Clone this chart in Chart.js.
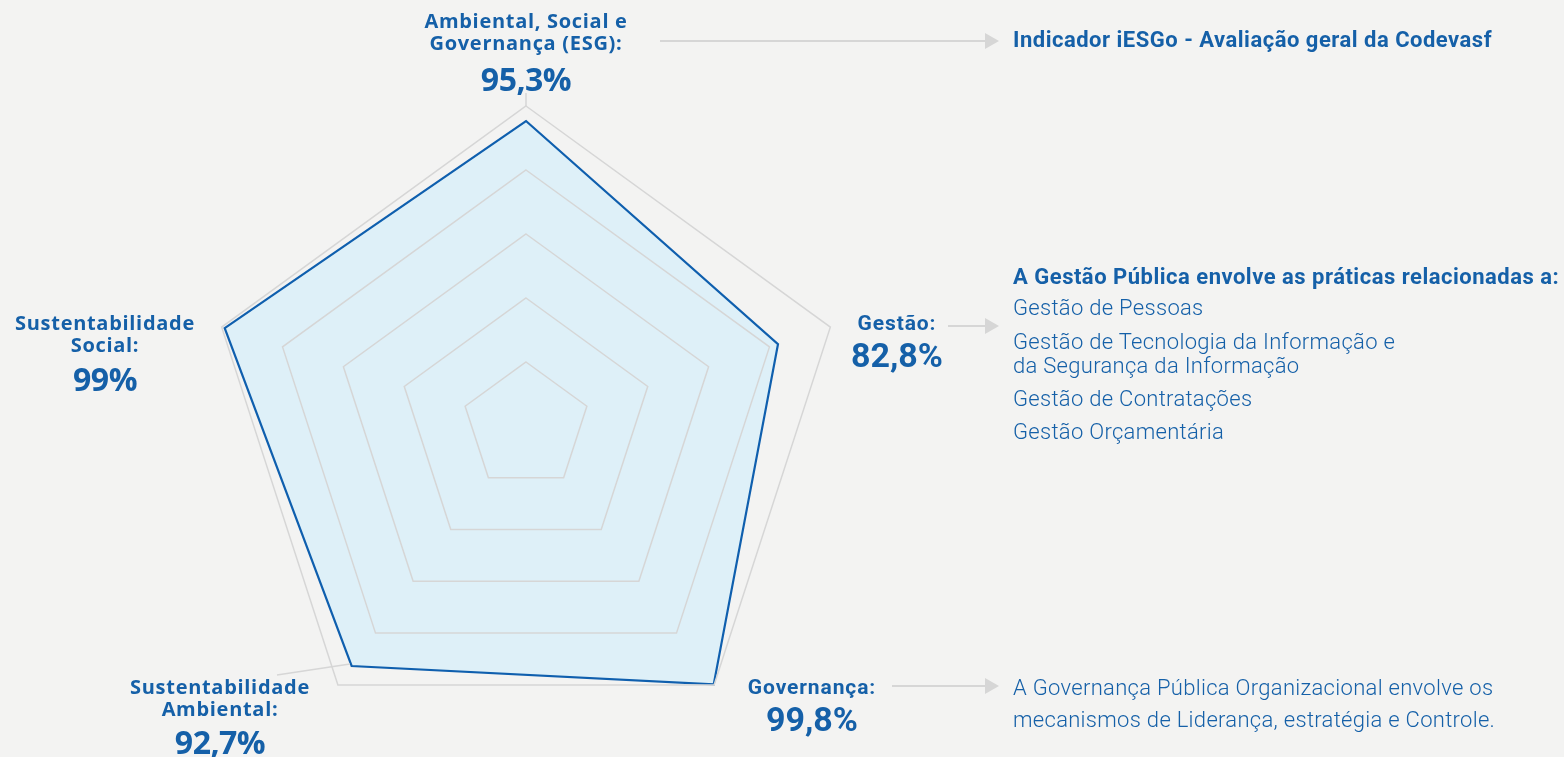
<!DOCTYPE html>
<html>
<head>
<meta charset="utf-8">
<script src="https://cdn.jsdelivr.net/npm/chart.js@4.4.1/dist/chart.umd.min.js"></script>
<style>
  html, body { margin:0; padding:0; background:#f3f3f2; width:1564px; height:757px; overflow:hidden; }
  #wrap { position:relative; width:1564px; height:757px; }
  canvas { position:absolute; left:0; top:0; }
  .t { position:absolute; color:#1560a8; font-family:"Open Sans", Lato, sans-serif; white-space:nowrap; }
  .lbl { font-weight:700; font-size:20px; line-height:22px; text-align:center; letter-spacing:0.7px; }
  .num { font-weight:700; font-size:32px; line-height:36px; text-align:center; letter-spacing:-0.5px; }
  .cond { font-family:Roboto, sans-serif; }
  .lbl.cond { font-size:21px; letter-spacing:0.9px; }
  .num.cond { font-size:34px; letter-spacing:0px; }
  .light { font-family:Roboto, sans-serif; font-weight:300; font-size:22px; letter-spacing:0.3px; }
  .head { font-family:Roboto, sans-serif; font-weight:700; font-size:22px; letter-spacing:0.5px; }
</style>
</head>
<body>
<div id="wrap">
  <canvas id="c" width="1564" height="757"></canvas>
</div>
<script>
// ---- data ----
const categories = ["Ambiental, Social e Governança (ESG)", "Gestão", "Governança", "Sustentabilidade Ambiental", "Sustentabilidade Social"];
const values = [95.3, 82.8, 99.8, 92.7, 99];
const valueLabels = ["95,3%", "82,8%", "99,8%", "92,7%", "99%"];
const tickSteps = [0, 20, 40, 60, 80, 100];

const headline = "Indicador iESGo - Avaliação geral da Codevasf";
const gestaoHead = "A Gestão Pública envolve as práticas relacionadas a:";
const gestaoItems = ["Gestão de Pessoas", "Gestão de Tecnologia da Informação e|da Segurança da Informação", "Gestão de Contratações", "Gestão Orçamentária"];
const govText = ["A Governança Pública Organizacional envolve os", "mecanismos de Liderança, estratégia e Controle."];

// ---- overlay text ----
const wrap = document.getElementById('wrap');
function addText(html, cls, style) {
  const d = document.createElement('div');
  d.className = 't ' + cls;
  d.innerHTML = html;
  Object.assign(d.style, style);
  wrap.appendChild(d);
  return d;
}
// ESG (top)
addText("Ambiental, Social e<br>Governança (ESG):", "lbl", {left:"376px", width:"300px", top:"10px"});
addText(valueLabels[0], "num", {left:"376px", width:"300px", top:"61px"});
// Gestão (right)
addText("Gestão:", "lbl cond", {left:"847px", width:"100px", top:"312px"});
addText(valueLabels[1], "num cond", {left:"847px", width:"100px", top:"337px"});
// Governança (bottom right)
addText("Governança:", "lbl cond", {left:"737px", width:"150px", top:"676px"});
addText(valueLabels[2], "num cond", {left:"737px", width:"150px", top:"701px"});
// Sust. Ambiental (bottom left)
addText("Sustentabilidade<br>Ambiental:", "lbl", {left:"100px", width:"240px", top:"676px"});
addText(valueLabels[3], "num", {left:"100px", width:"240px", top:"724px"});
// Sust. Social (left)
addText("Sustentabilidade<br>Social:", "lbl", {left:"-15px", width:"240px", top:"312px"});
addText(valueLabels[4], "num", {left:"-15px", width:"240px", top:"361px"});

// right side texts
addText(headline, "head", {left:"1013px", top:"27px"});
addText(gestaoHead, "head", {left:"1013px", top:"264px"});
const itemTops = [296, 330, 387, 420];
gestaoItems.forEach((s, i) => {
  addText(s.replace('|', '<br>'), "light", {left:"1013px", top: itemTops[i] + "px", lineHeight:"24px"});
});
addText(govText.join('<br>'), "light", {left:"1013px", top:"672px", lineHeight:"32px"});

// ---- arrows / leader lines plugin ----
const arrows = [
  {x1:660, x2:999, y:41},
  {x1:948, x2:999, y:326},
  {x1:892, x2:999, y:686}
];
const decor = {
  id:'decor',
  afterDraw(chart) {
    const ctx = chart.ctx;
    const r = chart.scales.r;
    ctx.save();
    ctx.strokeStyle = '#d6d6d6';
    ctx.fillStyle = '#d6d6d6';
    ctx.lineWidth = 2;
    arrows.forEach(a => {
      ctx.beginPath();
      ctx.moveTo(a.x1, a.y); ctx.lineTo(a.x2 - 13, a.y); ctx.stroke();
      ctx.beginPath();
      ctx.moveTo(a.x2 - 14, a.y - 8); ctx.lineTo(a.x2, a.y); ctx.lineTo(a.x2 - 14, a.y + 8); ctx.closePath(); ctx.fill();
    });
    // leader lines to outer vertices
    ctx.lineWidth = 1.5;
    const top = r.getPointPosition(0, r.drawingArea);
    ctx.beginPath(); ctx.moveTo(top.x, 93); ctx.lineTo(top.x, top.y); ctx.stroke();
    const bl = r.getPointPosition(3, r.drawingArea);
    ctx.beginPath(); ctx.moveTo(277, 675); ctx.lineTo(bl.x + 12, bl.y - 21); ctx.stroke();
    ctx.restore();
  }
};
const bg = {
  id:'bg',
  beforeDraw(chart) {
    const ctx = chart.ctx;
    ctx.save(); ctx.fillStyle = '#f3f3f2'; ctx.fillRect(0,0,chart.width,chart.height); ctx.restore();
  }
};

new Chart(document.getElementById('c'), {
  type:'radar',
  data:{
    labels: categories,
    datasets:[{
      data: values,
      backgroundColor:'rgba(220,240,248,0.9)',
      borderColor:'#0f5fae',
      borderWidth:2.2,
      pointRadius:0,
      pointHoverRadius:0,
      fill:true
    }]
  },
  options:{
    responsive:false,
    animation:false,
    devicePixelRatio:1,
    layout:{ padding:{ left:206, right:718, top:106, bottom:11 } },
    plugins:{ legend:{display:false}, tooltip:{enabled:false} },
    scales:{
      r:{
        min: tickSteps[0], max: tickSteps[tickSteps.length-1],
        ticks:{ display:false, stepSize: tickSteps[1]-tickSteps[0] },
        pointLabels:{ display:false },
        angleLines:{ display:false },
        grid:{ color:'#d6d6d6', lineWidth:1.5, z:1 }
      }
    }
  },
  plugins:[bg, decor]
});
</script>
</body>
</html>
